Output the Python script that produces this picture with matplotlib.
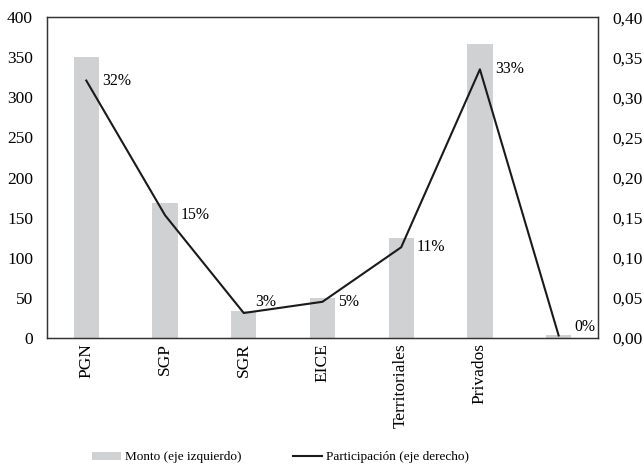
import numpy as np
import matplotlib.pyplot as plt
from matplotlib.ticker import FuncFormatter

plt.rcParams['font.family'] = ['Liberation Serif', 'DejaVu Serif']

# Datos
categorias = ["PGN", "SGP", "SGR", "EICE", "Territoriales", "Privados", ""]
monto = [351, 168, 34, 50, 125, 367, 4]
participacion = [0.321, 0.153, 0.031, 0.045, 0.113, 0.335, 0.003]
etiquetas = ["32%", "15%", "3%", "5%", "11%", "33%", "0%"]

x = np.arange(len(categorias))

fig, ax = plt.subplots(figsize=(6.43, 4.66), dpi=100)
fig.subplots_adjust(left=0.073, right=0.930, top=0.963, bottom=0.275)

barras = ax.bar(x, monto, width=0.32, color="#d0d1d3", label="Monto (eje izquierdo)")
ax.set_ylim(0, 400)
ax.set_yticks(np.arange(0, 401, 50))
ax.set_xlim(-0.5, len(categorias) - 0.5)
ax.set_xticks(x)
ax.set_xticklabels(categorias, rotation=90)
ax.tick_params(length=0, labelsize=12.5)
ax.tick_params(axis="y", pad=10)
ax.tick_params(axis="x", pad=4)

ax2 = ax.twinx()
linea, = ax2.plot(x, participacion, color="#1a1a1a", lw=1.5, label="Participación (eje derecho)")
ax2.set_ylim(0, 0.40)
ax2.set_yticks(np.arange(0, 0.401, 0.05))
ax2.yaxis.set_major_formatter(FuncFormatter(lambda v, p: f"{v:.2f}".replace(".", ",")))
ax2.tick_params(length=0, labelsize=12.5, pad=10)

# Etiquetas de porcentaje
for i, (p, t) in enumerate(zip(participacion, etiquetas)):
    if t == "3%":
        ax2.text(i + 0.15, p + 0.004, t, fontsize=11.3, va="bottom", ha="left")
    elif t == "0%":
        ax2.text(i + 0.2, p, t, fontsize=11.3, va="bottom", ha="left")
    else:
        ax2.text(i + 0.2, p, t, fontsize=11.3, va="center", ha="left")

for a in (ax, ax2):
    for s in a.spines.values():
        s.set_color("#333333")
        s.set_linewidth(0.9)

fig.legend([barras, linea], ["Monto (eje izquierdo)", "Participación (eje derecho)"],
           loc="lower center", ncol=2, frameon=False, fontsize=9.5,
           bbox_to_anchor=(0.436, -0.02), columnspacing=3.9, handlelength=2.2,
           handletextpad=0.3, handleheight=0.55)

plt.savefig("out.png", dpi=100)
